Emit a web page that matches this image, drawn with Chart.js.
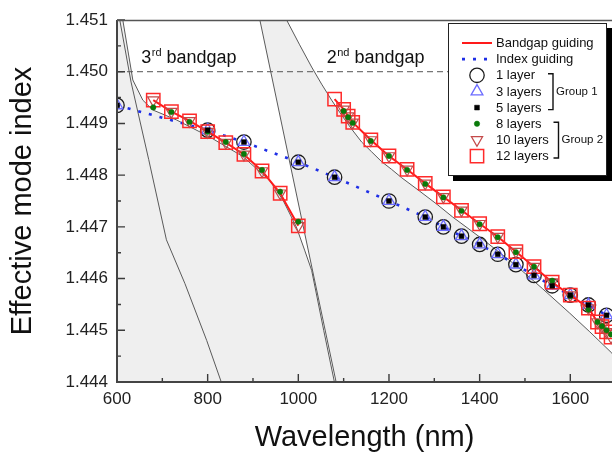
<!DOCTYPE html>
<html>
<head>
<meta charset="utf-8">
<script src="https://cdn.jsdelivr.net/npm/chart.js@4.4.1/dist/chart.umd.min.js"></script>
<style>
html,body{margin:0;padding:0;background:#fff;overflow:hidden;}
canvas{display:block;}
</style>
</head>
<body>
<canvas id="chart" width="612" height="452"></canvas>
<script>
// ---------- tick labels ----------
const xTickValues = [600, 800, 1000, 1200, 1400, 1600];
const yTickValues = [1.444, 1.445, 1.446, 1.447, 1.448, 1.449, 1.450, 1.451];

// ---------- Group 1 : index guiding (1, 3, 5 layers) ----------
const wlIndex = [600, 800, 880, 1000, 1080, 1200, 1280, 1320, 1360, 1400, 1440, 1480, 1520, 1560, 1600, 1640, 1680];
const nLayer1 = [1.44935, 1.44887, 1.44864, 1.44825, 1.44796, 1.44750, 1.44719, 1.44700, 1.44682, 1.44666, 1.44647, 1.44627, 1.44606, 1.44586, 1.44568, 1.44549, 1.44529];
const nLayer3 = [1.44935, 1.44887, 1.44864, 1.44825, 1.44796, 1.44750, 1.44719, 1.44700, 1.44682, 1.44666, 1.44647, 1.44627, 1.44606, 1.44586, 1.44568, 1.44549, 1.44529];
const nLayer5 = [1.44935, 1.44887, 1.44864, 1.44825, 1.44796, 1.44750, 1.44719, 1.44700, 1.44682, 1.44666, 1.44647, 1.44627, 1.44606, 1.44586, 1.44568, 1.44549, 1.44529];

// ---------- Group 2 : bandgap guiding, 3rd bandgap ----------
const wlGap3 = [680, 720, 760, 800, 840, 880, 920, 960, 1000];
const nLayer8Gap3  = [1.44931, 1.44922, 1.44903, 1.44884, 1.44864, 1.44841, 1.44810, 1.44768, 1.44710];
const nLayer10Gap3 = [1.44945, 1.44923, 1.44905, 1.44884, 1.44863, 1.44840, 1.44808, 1.44765, 1.44702];
const nLayer12Gap3 = [1.44945, 1.44923, 1.44905, 1.44884, 1.44863, 1.44840, 1.44808, 1.44765, 1.44702];

// ---------- Group 2 : bandgap guiding, 2nd bandgap ----------
const wlGap2 = [1080, 1100, 1110, 1120, 1160, 1200, 1240, 1280, 1320, 1360, 1400, 1440, 1480, 1520, 1560, 1600, 1640, 1660, 1670, 1680, 1690];
const nLayer8Gap2  = [null, 1.44924, 1.44912, 1.44901, 1.44866, 1.44837, 1.44810, 1.44783, 1.44757, 1.44731, 1.44705, 1.44680, 1.44651, 1.44623, 1.44596, 1.44566, 1.44540, 1.44516, 1.44508, 1.44500, 1.44492];
const nLayer10Gap2 = [null, 1.44927, 1.44914, 1.44902, 1.44868, 1.44837, 1.44811, 1.44784, 1.44758, 1.44732, 1.44706, 1.44681, 1.44652, 1.44623, 1.44593, 1.44568, 1.44543, 1.44516, 1.44507, 1.44497, 1.44487];
const nLayer12Gap2 = [1.44947, 1.44927, 1.44914, 1.44902, 1.44868, 1.44837, 1.44811, 1.44784, 1.44758, 1.44732, 1.44706, 1.44681, 1.44652, 1.44623, 1.44593, 1.44568, 1.44543, 1.44516, 1.44507, 1.44497, 1.44487];

// ---------- reference index (dashed line) ----------
const refLineX = [600, 1692];
const refLineY = [1.450, 1.450];

// ---------- bandgap edges (cladding mode lines) ----------
const edgeAx = [602, 631, 670, 709, 750, 798, 834];
const edgeAy = [1.4512, 1.4498, 1.4483, 1.44675, 1.4459, 1.4448, 1.4439];
const edgeBx = [610, 612.8, 634.9, 657, 679, 730.7, 804.2, 877.7, 936.6, 966, 995.6, 1013.9, 1029.4, 1056, 1082];
const edgeBy = [1.4513, 1.45100, 1.44984, 1.44945, 1.44926, 1.44907, 1.44874, 1.44836, 1.44790, 1.44752, 1.44700, 1.44655, 1.44616, 1.44500, 1.4439];
const edgeCx = [914, 999, 1087];
const edgeCy = [1.45105, 1.4475, 1.44385];
const edgeDx = [967.5, 974.2, 1002.9, 1029.4, 1051.4, 1073.5, 1095.6, 1117.7, 1139.7, 1161.8, 1183.9, 1206, 1228, 1267.8, 1305.3, 1340.6, 1406.8, 1481.9, 1539.3, 1598.9, 1643, 1691.6, 1709.3];
const edgeDy = [1.45116, 1.45100, 1.45052, 1.45009, 1.44976, 1.44945, 1.44916, 1.44889, 1.44864, 1.44845, 1.44826, 1.44811, 1.44795, 1.44769, 1.44744, 1.44719, 1.44676, 1.44624, 1.44580, 1.44533, 1.44497, 1.44456, 1.44440];

// ---------- annotations ----------
const bandLabels = [
  {base: '3', sup: 'rd', rest: ' bandgap', x: 653.5, y: 1.45017},
  {base: '2', sup: 'nd', rest: ' bandgap', x: 1062.5, y: 1.45017}
];

// ================================================================
const FONT = "'Liberation Sans', Arial, Helvetica, sans-serif";
const GRAY = '#efefef';
Chart.defaults.font.family = FONT;

const pts = (xs, ys) => xs.map((x, i) => ({x: x, y: ys[i]}));

const S = {
  l1:  {pointStyle: 'circle',   radius: 7.2, rotation: 0,   border: '#1c1c1c', fill: 'rgba(0,0,0,0)', bw: 1.3},
  l3:  {pointStyle: 'triangle', radius: 6.8, rotation: 0,   border: '#6b6bff', fill: 'rgba(0,0,0,0)', bw: 1.3},
  l5:  {pointStyle: 'rect',     radius: 3.4, rotation: 0,   border: '#000000', fill: '#000000', bw: 0.5},
  l8:  {pointStyle: 'circle',   radius: 2.7, rotation: 0,   border: '#0a7a0a', fill: '#0a7a0a', bw: 0.5},
  l10: {pointStyle: 'triangle', radius: 6.5, rotation: 180, border: '#c44a4a', fill: 'rgba(0,0,0,0)', bw: 1.2},
  l12: {pointStyle: 'rect',     radius: 9.4, rotation: 0,   border: '#ff2a2a', fill: 'rgba(0,0,0,0)', bw: 1.5}
};

function markerSet(label, data, s) {
  return {
    label: label, data: data, showLine: false, clip: 0,
    pointStyle: s.pointStyle, pointRadius: s.radius, pointHoverRadius: s.radius,
    pointRotation: s.rotation, pointBorderColor: s.border, pointBackgroundColor: s.fill,
    pointBorderWidth: s.bw, borderColor: s.border, backgroundColor: s.fill
  };
}
function lineSet(label, data, opts) {
  return Object.assign({label: label, data: data, showLine: true, pointRadius: 0, pointHoverRadius: 0,
    clip: 0, fill: false, tension: 0, spanGaps: false}, opts);
}

const gapBreak = [{x: 1040, y: null}];
const bandLineData = pts(wlGap3, nLayer12Gap3).concat(gapBreak, pts(wlGap2, nLayer12Gap2));
const ds8  = pts(wlGap3, nLayer8Gap3).concat(gapBreak, pts(wlGap2, nLayer8Gap2));
const ds10 = pts(wlGap3, nLayer10Gap3).concat(gapBreak, pts(wlGap2, nLayer10Gap2));
const ds12 = pts(wlGap3, nLayer12Gap3).concat(gapBreak, pts(wlGap2, nLayer12Gap2));

const datasets = [
  markerSet('5 layers', pts(wlIndex, nLayer5), S.l5),
  markerSet('8 layers', ds8, S.l8),
  markerSet('10 layers', ds10, S.l10),
  markerSet('12 layers', ds12, S.l12),
  lineSet('Bandgap guiding', bandLineData, {borderColor: '#ff1a1a', borderWidth: 2}),
  markerSet('3 layers', pts(wlIndex, nLayer3), S.l3),
  markerSet('1 layer', pts(wlIndex, nLayer1), S.l1),
  lineSet('Index guiding', pts(wlIndex, nLayer1), {borderColor: '#1f2fe6', borderWidth: 2.6, borderDash: [3, 8]}),
  lineSet('ref', pts(refLineX, refLineY), {borderColor: '#555555', borderWidth: 1, borderDash: [6, 4]}),
  lineSet('edgeD', pts(edgeDx, edgeDy), {borderColor: '#5a5a5a', borderWidth: 1, fill: 'end', backgroundColor: '#ffffff'}),
  lineSet('edgeC', pts(edgeCx, edgeCy), {borderColor: '#5a5a5a', borderWidth: 1, fill: 'end', backgroundColor: GRAY}),
  lineSet('edgeB', pts(edgeBx, edgeBy), {borderColor: '#5a5a5a', borderWidth: 1, fill: 'end', backgroundColor: '#ffffff'}),
  lineSet('edgeA', pts(edgeAx, edgeAy), {borderColor: '#5a5a5a', borderWidth: 1})
];

function drawMarker(ctx, s, x, y) {
  const r = s.radius;
  ctx.save();
  ctx.beginPath();
  if (s.pointStyle === 'circle') {
    ctx.arc(x, y, r, 0, Math.PI * 2);
  } else if (s.pointStyle === 'rect') {
    const h = r * Math.SQRT1_2;
    ctx.rect(x - h, y - h, 2 * h, 2 * h);
  } else {
    let a = s.rotation * Math.PI / 180;
    ctx.moveTo(x + Math.sin(a) * r, y - Math.cos(a) * r);
    a += 2 * Math.PI / 3;
    ctx.lineTo(x + Math.sin(a) * r, y - Math.cos(a) * r);
    a += 2 * Math.PI / 3;
    ctx.lineTo(x + Math.sin(a) * r, y - Math.cos(a) * r);
    ctx.closePath();
  }
  ctx.fillStyle = s.fill; ctx.fill();
  ctx.strokeStyle = s.border; ctx.lineWidth = s.bw; ctx.stroke();
  ctx.restore();
}

const areaBg = {
  id: 'areaBg',
  beforeDraw(chart) {
    const {ctx, chartArea: a} = chart;
    ctx.save();
    ctx.fillStyle = GRAY;
    ctx.fillRect(a.left, a.top, a.right - a.left, a.bottom - a.top);
    ctx.restore();
  }
};

const frame = {
  id: 'frame',
  afterDatasetsDraw(chart) {
    const {ctx, chartArea: a, scales: {x, y}} = chart;
    ctx.save();
    ctx.strokeStyle = '#3a3a3a';
    ctx.lineWidth = 1.4;
    ctx.beginPath();
    for (let v = 600; v <= x.max; v += 100) {
      const px = x.getPixelForValue(v);
      const len = (v % 200 === 0) ? 8 : 4;
      ctx.moveTo(px, a.bottom); ctx.lineTo(px, a.bottom - len);
    }
    for (let k = 0; k <= 14; k++) {
      const py = y.getPixelForValue(1.444 + k * 0.0005);
      const len = (k % 2 === 0) ? 8 : 4;
      ctx.moveTo(a.left, py); ctx.lineTo(a.left + len, py);
    }
    ctx.stroke();
    ctx.lineWidth = 2;
    ctx.strokeStyle = '#444';
    ctx.beginPath();
    ctx.moveTo(a.left, a.top); ctx.lineTo(a.left, a.bottom); ctx.lineTo(a.right, a.bottom);
    ctx.stroke();
    ctx.lineWidth = 1.5;
    ctx.strokeStyle = '#555';
    ctx.beginPath();
    ctx.moveTo(a.left, a.top + 0.5); ctx.lineTo(a.right, a.top + 0.5);
    ctx.stroke();

    // bandgap labels
    ctx.fillStyle = '#111';
    ctx.textBaseline = 'alphabetic';
    bandLabels.forEach(t => {
      let px = x.getPixelForValue(t.x);
      const py = y.getPixelForValue(t.y);
      ctx.font = '18px ' + FONT;
      ctx.fillText(t.base, px, py);
      px += ctx.measureText(t.base).width;
      ctx.font = '11px ' + FONT;
      ctx.fillText(t.sup, px + 0.5, py - 7);
      px += ctx.measureText(t.sup).width + 0.5;
      ctx.font = '18px ' + FONT;
      ctx.fillText(t.rest, px, py);
    });
    ctx.restore();
  }
};

const legendRows = [
  {label: 'Bandgap guiding', kind: 'line', color: '#ff1a1a', dash: []},
  {label: 'Index guiding', kind: 'line', color: '#1f2fe6', dash: [3, 8]},
  {label: '1 layer', kind: 'marker', style: S.l1},
  {label: '3 layers', kind: 'marker', style: S.l3},
  {label: '5 layers', kind: 'marker', style: S.l5},
  {label: '8 layers', kind: 'marker', style: S.l8},
  {label: '10 layers', kind: 'marker', style: S.l10},
  {label: '12 layers', kind: 'marker', style: S.l12}
];
const legendGroups = [
  {label: 'Group 1', first: 2, last: 4, x: 553},
  {label: 'Group 2', first: 5, last: 7, x: 558.5}
];

const customLegend = {
  id: 'customLegend',
  afterDraw(chart) {
    const ctx = chart.ctx;
    const bx = 448, by = 23, bw = 159, bh = 153;
    ctx.save();
    ctx.fillStyle = '#000';
    ctx.fillRect(bx + 5, by + 5, bw, bh);
    ctx.fillStyle = '#fff';
    ctx.fillRect(bx, by, bw, bh);
    ctx.strokeStyle = '#222';
    ctx.lineWidth = 1;
    ctx.strokeRect(bx + 0.5, by + 0.5, bw - 1, bh - 1);

    const rowY = i => 43 + i * 16.15;
    ctx.textBaseline = 'middle';
    legendRows.forEach((r, i) => {
      const yy = rowY(i);
      if (r.kind === 'line') {
        ctx.save();
        ctx.strokeStyle = r.color;
        ctx.lineWidth = r.dash.length ? 2.6 : 2;
        ctx.setLineDash(r.dash);
        ctx.beginPath(); ctx.moveTo(462, yy); ctx.lineTo(492, yy); ctx.stroke();
        ctx.restore();
      } else {
        drawMarker(ctx, r.style, 477, yy);
      }
      ctx.fillStyle = '#111';
      ctx.font = '13px ' + FONT;
      ctx.fillText(r.label, 496, yy + 0.5);
    });
    legendGroups.forEach(g => {
      const t = rowY(g.first) - 1.5, b = rowY(g.last) + 2;
      ctx.strokeStyle = '#111'; ctx.lineWidth = 1.4;
      ctx.beginPath();
      ctx.moveTo(g.x - 5, t); ctx.lineTo(g.x, t); ctx.lineTo(g.x, b); ctx.lineTo(g.x - 5, b);
      ctx.stroke();
      ctx.fillStyle = '#111';
      ctx.font = '11.5px ' + FONT;
      ctx.fillText(g.label, g.x + 3, (t + b) / 2);
    });
    ctx.restore();
  }
};

new Chart(document.getElementById('chart'), {
  type: 'scatter',
  data: {datasets: datasets},
  options: {
    responsive: false,
    animation: false,
    devicePixelRatio: 1,
    layout: {autoPadding: false, padding: {top: 20, right: 0, bottom: 0, left: 0}},
    plugins: {
      legend: {display: false},
      tooltip: {enabled: false},
      filler: {drawTime: 'beforeDatasetsDraw'}
    },
    scales: {
      x: {
        type: 'linear', position: 'bottom', min: 600, max: 1692,
        afterFit: s => { s.height = 70; s.paddingLeft = 0; s.paddingRight = 0; },
        afterBuildTicks: s => { s.ticks = xTickValues.map(v => ({value: v})); },
        grid: {display: false, drawTicks: false},
        border: {display: false},
        ticks: {font: {size: 17}, color: '#222', padding: 7, maxRotation: 0, autoSkip: false, includeBounds: false,
                callback: v => String(v)},
        title: {display: true, text: 'Wavelength (nm)', color: '#111', font: {size: 29, lineHeight: 1}, padding: {top: 0, bottom: 0}}
      },
      y: {
        type: 'linear', position: 'left', min: 1.444, max: 1.451,
        afterFit: s => { s.width = 117; s.paddingTop = 0; s.paddingBottom = 0; },
        afterBuildTicks: s => { s.ticks = yTickValues.map(v => ({value: v})); },
        grid: {display: false, drawTicks: false},
        border: {display: false},
        ticks: {font: {size: 17}, color: '#222', padding: 9, autoSkip: false, includeBounds: false,
                callback: v => Number(v).toFixed(3)},
        title: {display: true, text: 'Effective mode index', color: '#111', font: {size: 29, lineHeight: 1}, padding: {top: 8, bottom: 0}}
      }
    }
  },
  plugins: [areaBg, frame, customLegend]
});
</script>
</body>
</html>
